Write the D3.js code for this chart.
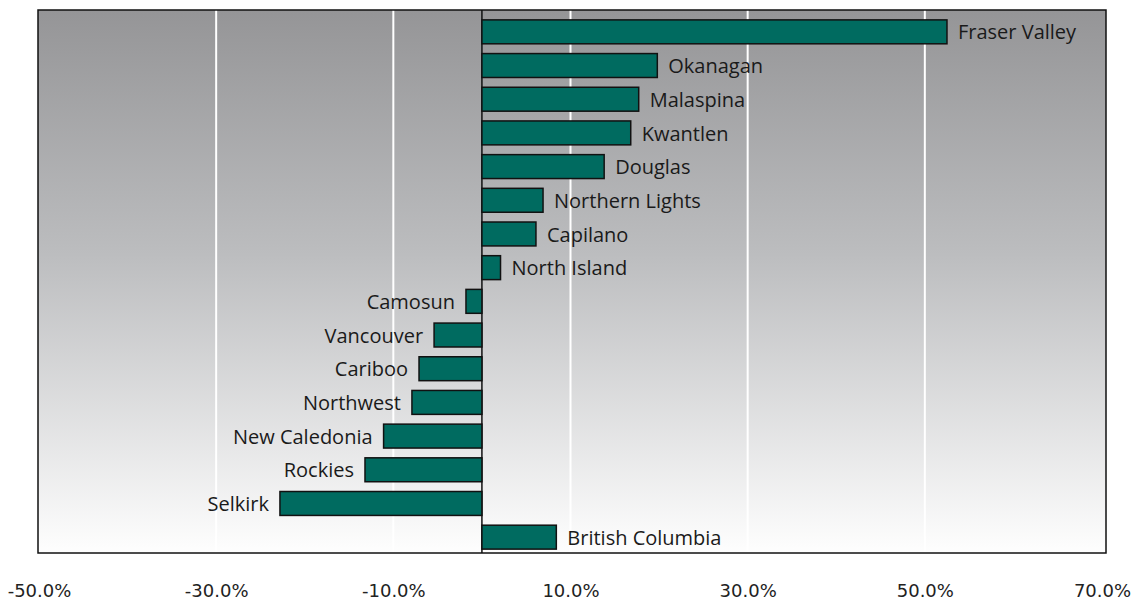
<!DOCTYPE html>
<html>
<head>
<meta charset="utf-8">
<script src="https://cdn.jsdelivr.net/npm/d3@7"></script>
<style>
  body { margin: 0; background: #fff; }
</style>
</head>
<body>
<div id="chart"></div>
<script>
// Change in enrolment by institution
const colleges = ["Fraser Valley", "Okanagan", "Malaspina", "Kwantlen", "Douglas",
  "Northern Lights", "Capilano", "North Island", "Camosun", "Vancouver", "Cariboo",
  "Northwest", "New Caledonia", "Rockies", "Selkirk", "British Columbia"];
const changes = [52.5, 19.8, 17.7, 16.8, 13.8, 6.9, 6.1, 2.1, -1.8, -5.4, -7.1,
  -7.9, -11.1, -13.2, -22.8, 8.4];
const tickValues = [-50, -30, -10, 10, 30, 50, 70];

(function () {
    const width = 1134, height = 600;
    const frame = { left: 38, right: 1106, top: 10, bottom: 553 };

    const data = colleges.map((name, i) => ({ name: name, value: changes[i] }));

    const svg = d3.select("#chart")
      .append("svg")
        .attr("width", width)
        .attr("height", height);

    // gray-to-white background gradient
    const grad = svg.append("defs").append("linearGradient")
        .attr("id", "bg")
        .attr("x1", 0).attr("y1", 0).attr("x2", 0).attr("y2", 1);
    grad.append("stop").attr("offset", "0%").attr("stop-color", "#959597");
    grad.append("stop").attr("offset", "45%").attr("stop-color", "#bcbdbf");
    grad.append("stop").attr("offset", "100%").attr("stop-color", "#fefefe");

    const x = d3.scaleLinear()
      .domain([-50, 70])
      .range([39, 1102]);

    const y = d3.scaleBand()
      .domain(colleges)
      .range([15, 554])
      .paddingInner(0.29)
      .paddingOuter(0.145);

    svg.append("rect")
      .attr("x", frame.left)
      .attr("y", frame.top)
      .attr("width", frame.right - frame.left)
      .attr("height", frame.bottom - frame.top)
      .attr("fill", "url(#bg)");

    // white gridlines
    svg.append("g")
      .selectAll("line")
      .data(tickValues.filter(t => t > -50 && t < 70))
      .enter()
      .append("line")
        .attr("x1", d => x(d))
        .attr("x2", d => x(d))
        .attr("y1", frame.top)
        .attr("y2", frame.bottom)
        .attr("stroke", "#fff")
        .attr("stroke-width", 2);

    // zero line
    svg.append("line")
      .attr("x1", x(0))
      .attr("x2", x(0))
      .attr("y1", frame.top)
      .attr("y2", frame.bottom)
      .attr("stroke", "#111")
      .attr("stroke-width", 1.5);

    // bars
    svg.append("g")
      .selectAll("rect")
      .data(data)
      .enter()
      .append("rect")
        .attr("x", d => x(Math.min(0, d.value)))
        .attr("y", d => y(d.name))
        .attr("width", d => Math.abs(x(d.value) - x(0)))
        .attr("height", y.bandwidth())
        .attr("fill", "#006b60")
        .attr("stroke", "#111")
        .attr("stroke-width", 1.5);

    // bar labels
    svg.append("g")
      .selectAll("text")
      .data(data)
      .enter()
      .append("text")
        .attr("x", d => d.value >= 0 ? x(d.value) + 11 : x(d.value) - 11)
        .attr("y", d => y(d.name) + y.bandwidth() / 2)
        .attr("dy", "0.38em")
        .attr("text-anchor", d => d.value >= 0 ? "start" : "end")
        .style("font-family", "'Open Sans', Lato, sans-serif")
        .style("font-size", "20px")
        .style("fill", "#1a1a1a")
        .text(d => d.name);

    // frame border
    svg.append("rect")
      .attr("x", frame.left)
      .attr("y", frame.top)
      .attr("width", frame.right - frame.left)
      .attr("height", frame.bottom - frame.top)
      .attr("fill", "none")
      .attr("stroke", "#111")
      .attr("stroke-width", 1.5);

    // x axis labels, no ticks
    const xAxis = svg.append("g")
      .attr("transform", `translate(0,${frame.bottom})`)
      .call(d3.axisBottom(x)
        .tickValues(tickValues)
        .tickSize(0)
        .tickPadding(31)
        .tickFormat(d => d.toFixed(1) + "%"));
    xAxis.select(".domain").remove();
    xAxis.selectAll("text")
      .style("font-family", "'DejaVu Sans', sans-serif")
      .style("font-size", "18px")
      .style("fill", "#222");
})();
</script>
</body>
</html>
